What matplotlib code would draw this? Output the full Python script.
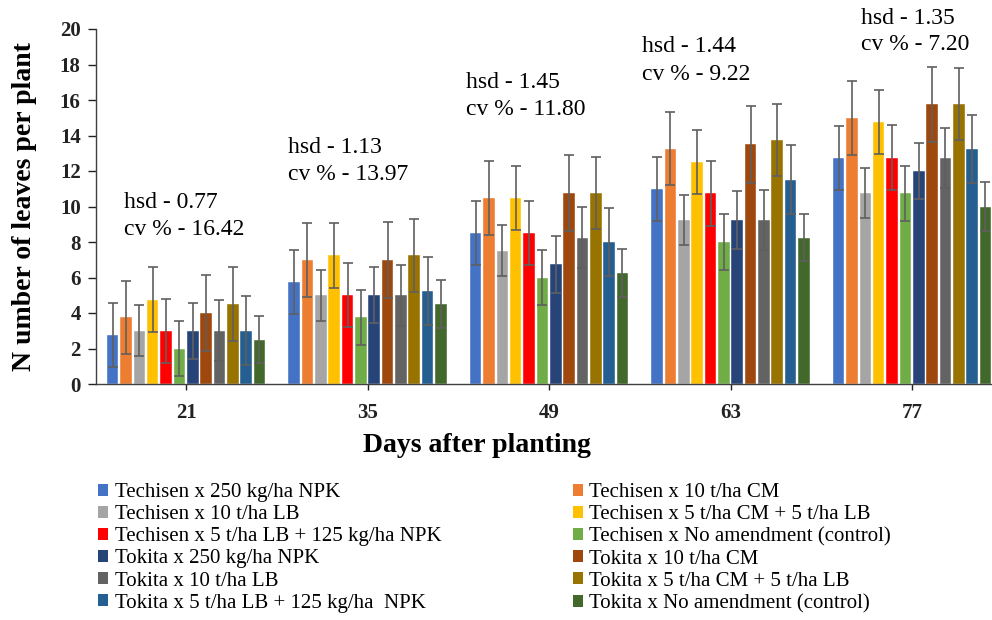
import numpy as np
import matplotlib
matplotlib.use("Agg")
import matplotlib.pyplot as plt
from matplotlib.patches import Patch

plt.rcParams['font.family'] = ['Liberation Serif', 'DejaVu Serif']

days = ['21', '35', '49', '63', '77']

series_names = [
    'Techisen x 250 kg/ha NPK',
    'Techisen x 10 t/ha CM',
    'Techisen x 10 t/ha LB',
    'Techisen x 5 t/ha CM + 5 t/ha LB',
    'Techisen x 5 t/ha LB + 125 kg/ha NPK',
    'Techisen x No amendment (control)',
    'Tokita x 250 kg/ha NPK',
    'Tokita x 10 t/ha CM',
    'Tokita x 10 t/ha LB',
    'Tokita x 5 t/ha CM + 5 t/ha LB',
    'Tokita x 5 t/ha LB + 125 kg/ha  NPK',
    'Tokita x No amendment (control)',
]

colors = ['#4472C4', '#ED7D31', '#A5A5A5', '#FFC000', '#FF0000', '#70AD47',
          '#264478', '#9E480E', '#636363', '#997300', '#255E91', '#43682B']

tech_npk = [2.75, 5.75, 8.5, 11.0, 12.75]
tech_cm = [3.75, 7.0, 10.5, 13.25, 15.0]
tech_lb = [3.0, 5.0, 7.5, 9.25, 10.75]
tech_cmlb = [4.75, 7.25, 10.5, 12.5, 14.75]
tech_lbnpk = [3.0, 5.0, 8.5, 10.75, 12.75]
tech_ctrl = [2.0, 3.75, 6.0, 8.0, 10.75]
tok_npk = [3.0, 5.0, 6.75, 9.25, 12.0]
tok_cm = [4.0, 7.0, 10.75, 13.5, 15.75]
tok_lb = [3.0, 5.0, 8.25, 9.25, 12.75]
tok_cmlb = [4.5, 7.25, 10.75, 13.75, 15.75]
tok_lbnpk = [3.0, 5.25, 8.0, 11.5, 13.25]
tok_ctrl = [2.5, 4.5, 6.25, 8.25, 10.0]

err_tech_npk = [1.8, 1.8, 1.8, 1.8, 1.8]
err_tech_cm = [2.05, 2.08, 2.08, 2.06, 2.08]
err_tech_lb = [1.44, 1.44, 1.44, 1.4, 1.4]
err_tech_cmlb = [1.82, 1.82, 1.8, 1.8, 1.8]
err_tech_lbnpk = [1.8, 1.8, 1.8, 1.84, 1.82]
err_tech_ctrl = [1.55, 1.54, 1.57, 1.58, 1.54]
err_tok_npk = [1.57, 1.58, 1.6, 1.62, 1.57]
err_tok_cm = [2.15, 2.15, 2.13, 2.15, 2.13]
err_tok_lb = [1.72, 1.71, 1.7, 1.68, 1.68]
err_tok_cmlb = [2.07, 2.05, 2.04, 2.05, 2.03]
err_tok_lbnpk = [1.93, 1.91, 1.93, 1.94, 1.9]
err_tok_ctrl = [1.33, 1.37, 1.33, 1.34, 1.36]

means = [tech_npk, tech_cm, tech_lb, tech_cmlb, tech_lbnpk, tech_ctrl,
         tok_npk, tok_cm, tok_lb, tok_cmlb, tok_lbnpk, tok_ctrl]
errs = [err_tech_npk, err_tech_cm, err_tech_lb, err_tech_cmlb, err_tech_lbnpk, err_tech_ctrl,
        err_tok_npk, err_tok_cm, err_tok_lb, err_tok_cmlb, err_tok_lbnpk, err_tok_ctrl]

hsd_labels = ['hsd - 0.77', 'hsd - 1.13', 'hsd - 1.45', 'hsd - 1.44', 'hsd - 1.35']
cv_labels = ['cv % - 16.42', 'cv % - 13.97', 'cv % - 11.80', 'cv % - 9.22', 'cv % - 7.20']

W, H = 992, 620
fig = plt.figure(figsize=(W / 100, H / 100), dpi=100)
ax_left, ax_bottom, ax_top = 96, 384, 29
ax_w = 907.5
ax = fig.add_axes([ax_left / W, 1 - ax_bottom / H, ax_w / W, (ax_bottom - ax_top) / H])

x = np.arange(len(days))
n = len(means)
slot = 0.0735
bw = 0.064
err_color = '#5f5f5f'
for i, (m, e, c) in enumerate(zip(means, errs, colors)):
    pos = x + (i - (n - 1) / 2) * slot
    ax.bar(pos, m, width=bw, color=c, edgecolor='white', linewidth=0.3, zorder=2)
    ax.errorbar(pos, m, yerr=e, fmt='none', ecolor=err_color, elinewidth=1.2,
                capsize=3.8, capthick=1.2, zorder=3)

ax.set_xlim(-0.496, 4.504)
ax.set_ylim(0, 20)
ax.set_yticks(np.arange(0, 21, 2))
ax.set_xticks(x)
ax.set_xticklabels(days)
for lab in ax.get_xticklabels() + ax.get_yticklabels():
    lab.set_fontweight('bold')
    lab.set_fontsize(15)
ax.tick_params(axis='y', direction='out', length=6, width=1, pad=5, colors='#222222')
ax.tick_params(axis='x', direction='out', length=4, width=1, pad=10, colors='#222222')
for s in ['top', 'right']:
    ax.spines[s].set_visible(False)
for s in ['left', 'bottom']:
    ax.spines[s].set_color('#404040')
    ax.spines[s].set_linewidth(1.0)

ax.set_ylabel('N umber of leaves per plant', fontsize=20, fontweight='bold')
ax.yaxis.set_label_coords(-0.065, 0.5)
ax.set_xlabel('Days after planting', fontsize=20, fontweight='bold')
ax.xaxis.set_label_coords(0.42, -0.138)
ax.xaxis.label.set_va('top')

ann_dx = [-0.34, -0.44, -0.46, -0.49, -0.28]
ann_y1 = [10.2, 13.35, 17.0, 19.0, 20.6]
ann_y2 = [8.7, 11.8, 15.45, 17.45, 19.1]
for i in range(len(days)):
    ax.text(x[i] + ann_dx[i], ann_y1[i], hsd_labels[i], fontsize=17, ha='left', va='center', clip_on=False)
    ax.text(x[i] + ann_dx[i], ann_y2[i], cv_labels[i], fontsize=17, ha='left', va='center', clip_on=False)

handles = [Patch(facecolor=c, edgecolor='none') for c in colors]
order = list(range(0, 12, 2)) + list(range(1, 12, 2))
leg = fig.legend([handles[k] for k in order], [series_names[k] for k in order],
                 ncol=2, loc='upper left', bbox_to_anchor=(98 / W, 1 - 483 / H),
                 frameon=False, fontsize=15, handlelength=0.5, handleheight=0.5,
                 handletextpad=0.3, labelspacing=0.15, columnspacing=6.3,
                 borderpad=0, borderaxespad=0)

fig.savefig('out.png', dpi=100)
